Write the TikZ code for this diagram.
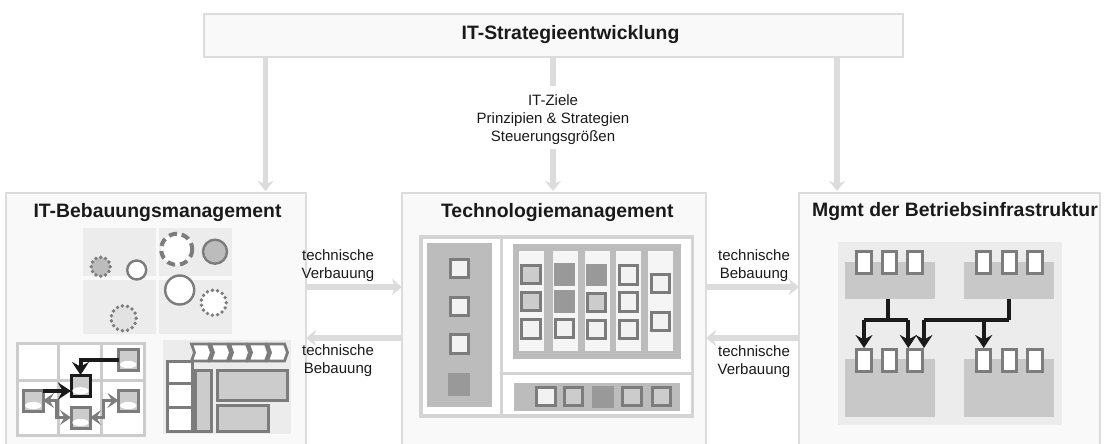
\documentclass[tikz,border=0pt]{standalone}
\usepackage{fontspec}
\setmainfont{Liberation Sans}
\usetikzlibrary{arrows.meta,calc}
\definecolor{panelline}{HTML}{DCDCDC}
\definecolor{panelfill}{HTML}{F9F9F9}
\definecolor{quad}{HTML}{ECECEC}
\definecolor{mid}{HTML}{7C7C7C}
\definecolor{midlight}{HTML}{CCCCCC}
\definecolor{dark}{HTML}{999999}
\definecolor{band}{HTML}{BCBCBC}
\definecolor{col}{HTML}{F5F5F5}
\definecolor{pale}{HTML}{F2F2F2}
\definecolor{block}{HTML}{C8C8C8}
\definecolor{ink}{HTML}{1A1A1A}
\tikzset{
  x=1pt,y=-1pt,
  panel/.style={draw=panelline,fill=panelfill,line width=2.5pt},
  title/.style={font=\bfseries\fontsize{19.4}{23}\selectfont,text=ink,inner sep=0pt},
  lab/.style={font=\fontsize{15}{18}\selectfont,text=ink,align=center,inner sep=0pt},
  flow/.style={draw=panelline,line width=5.5pt,-{Stealth[length=10pt,width=16pt,inset=3pt]}},
  plainflow/.style={draw=panelline,line width=5.5pt},
  soft/.style={fill=quad},
  item/.style={draw=mid,line width=3pt,fill=pale},
  itemlight/.style={draw=mid,line width=3pt,fill=midlight},
  itemdark/.style={fill=dark,draw=none},
  itemwhite/.style={draw=mid,line width=3pt,fill=white},
  blackitem/.style={draw=ink,line width=3pt,fill=midlight},
  grid/.style={draw=midlight,line width=3pt,fill=white},
  techgrid/.style={draw=midlight!85!white,line width=3.2pt,fill=white},
  blackarrow/.style={draw=ink,line width=4pt,-{Stealth[length=13pt,width=17pt,inset=4.5pt]}},
  blackline/.style={draw=ink,line width=4pt},
  grayarrow/.style={draw=mid,line width=3.6pt,{Stealth[length=11pt,width=15pt,inset=4.5pt]}-{Stealth[length=11pt,width=15pt,inset=4.5pt]}},
  dashring/.style={draw=mid,line width=4pt,dash pattern=on 8pt off 5pt},
  ring/.style={draw=mid,line width=2.4pt},
}
\newcommand{\mybox}[6]{%
  \pgfmathsetmacro{\bxw}{(#5)-(#3)}\pgfmathsetmacro{\bxh}{(#6)-(#4)}%
  \pgfmathsetmacro{\bxx}{((#3)+(#5))/2}\pgfmathsetmacro{\bxy}{((#4)+(#6))/2}%
  \node[#2,inner sep=0pt,outer sep=0pt,minimum width=\bxw pt,minimum height=\bxh pt] (#1) at (\bxx,\bxy) {};}
\newcommand{\sq}[4]{\mybox{#1}{#2}{#3-9.2}{#4-9.2}{#3+9.2}{#4+9.2}}
\newcommand{\dbox}[6]{\mybox{#1}{#2}{#3}{#4}{#5}{#6}%
  \fill[white] ([yshift=-5pt]#1.center) ellipse [x radius=8.2,y radius=3.6];}
\newcommand{\srv}[3]{\mybox{#1}{itemwhite}{#2-7.2}{#3-11}{#2+7.2}{#3+11}}
% ring of round dots: x, y, radius, fill, number of dots
\newcommand{\dotring}[5]{%
  \fill[#4] (#1,#2) circle [radius=#3];
  \foreach \dk in {1,...,#5}{\fill[mid] ($(#1,#2)+({360*\dk/#5}:#3)$) circle [radius=1.9];}}
\begin{document}
\begin{tikzpicture}
\useasboundingbox (0,0) rectangle (1105,444);
\clip (0,0) rectangle (1105,444);
% main panels
\mybox{top}{panel}{204}{14}{903}{57}
\mybox{bebau}{panel}{6}{193}{306}{470}
\mybox{tech}{panel}{402}{193}{706}{470}
\mybox{infra}{panel}{799}{193}{1100}{470}
\node[title] (ttop) at (570.5,34.5) {IT-Strategieentwicklung};
\node[title] (tbebau) at (157.5,213) {IT-Bebauungsmanagement};
\node[title] (ttech) at (557.3,212.5) {Technologiemanagement};
\node[title] (tinfra) at (955,212) {Mgmt der Betriebsinfrastruktur};
% vertical flows
\node[lab,minimum height=68pt] (goals) at (553,120) {IT-Ziele\\Prinzipien \& Strategien\\Steuerungsgrößen};
\draw[plainflow] (goals.north |- top.south) -- (goals.north);
\draw[flow,shorten >=2pt,shorten <=-5pt] (goals.south) -- (goals.south |- tech.north);
\coordinate (xa) at (265.5,0);
\coordinate (xb) at (837,0);
\draw[flow,shorten >=2pt] (xa |- top.south) -- (xa |- bebau.north);
\draw[flow,shorten >=2pt] (xb |- top.south) -- (xb |- infra.north);
% horizontal flows
\coordinate (ya) at (0,287);
\coordinate (yb) at (0,338);
\draw[flow] (bebau.east |- ya) -- (tech.west |- ya);
\draw[flow] (tech.west |- yb) -- (bebau.east |- yb);
\draw[flow] (tech.east |- ya) -- (infra.west |- ya);
\draw[flow] (infra.west |- yb) -- (tech.east |- yb);
\node[lab] (l1) at (338,266) {technische\\Verbauung};
\node[lab] (l2) at (338,361) {technische\\Bebauung};
\node[lab] (l3) at (754,266) {technische\\Bebauung};
\node[lab] (l4) at (754,362) {technische\\Verbauung};
% ---- portfolio quadrants
\mybox{q1}{soft}{83.3}{227.7}{155.7}{276.3}
\mybox{q2}{soft}{159.3}{227.7}{232}{276.3}
\mybox{q3}{soft}{83.3}{280}{155.7}{333.7}
\mybox{q4}{soft}{159.3}{280}{232}{333.7}
\dotring{100.7}{266.7}{9.5}{band}{12}
\draw[ring,fill=white] (136.7,270) circle [radius=9.5];
\draw[dashring,fill=white] (176.7,249.3) circle [radius=15.5];
\draw[ring,fill=band] (215,251.7) circle [radius=12];
\draw[ring,fill=white] (179.7,290) circle [radius=14.5];
\dotring{213.7}{302.7}{12.5}{white}{15}
\dotring{123.7}{318.3}{12.5}{quad!70!midlight}{15}
% ---- landscape grid
\mybox{g}{grid}{17.5}{343.5}{144}{435}
\draw[draw=midlight,line width=3pt] (58.3,343.5) -- (58.3,435) (101.7,343.5) -- (101.7,435) (17.5,380) -- (144,380);
\dbox{tr}{itemlight}{118.5}{349}{138}{370}
\dbox{cc}{blackitem}{71}{375}{90}{396.5}
\dbox{ll}{itemlight}{23.5}{390}{43}{411}
\dbox{rr}{itemlight}{118.5}{390}{138}{411}
\dbox{bb}{itemlight}{71}{407}{90}{428}
\coordinate (gl) at (56.7,0);
\coordinate (gr) at (103.3,0);
\draw[grayarrow] (ll.east) -- (ll.east -| gl) -- (bb.west -| gl) -- (bb.west);
\draw[grayarrow] (rr.west) -- (rr.west -| gr) -- (bb.east -| gr) -- (bb.east);
\draw[blackarrow] (tr.west) -| (cc.north);
\path ([yshift=-1pt]ll.north east) coordinate (la);
\draw[blackarrow] (la) -- (la -| cc.west);
% ---- process map
\mybox{pm}{soft}{163.3}{340}{291}{434.3}
\foreach \i in {4,3,2,1,0}{
  \pgfmathsetmacro{\xa}{191.5+19*\i}
  \draw[draw=mid,line width=2.8pt,fill=white,line join=miter]
    (\xa,344) -- (\xa+17,344) -- (\xa+20,352.5) -- (\xa+17,361) -- (\xa,361) -- (\xa+3,352.5) -- cycle;
}
\mybox{p1}{itemwhite}{167.5}{361.5}{192}{383.5}
\mybox{p2}{itemwhite}{167.5}{383.5}{192}{407.5}
\mybox{p3}{itemwhite}{167.5}{407.5}{192}{431}
\mybox{p4}{itemlight}{195.5}{370.5}{211.5}{431}
\mybox{p5}{itemlight}{217}{370.5}{287}{400}
\mybox{p6}{itemlight}{217}{405.5}{268.5}{431}
% ---- technology grid
\mybox{tg}{techgrid}{421}{237}{692.5}{416}
\draw[draw=midlight!85!white,line width=3.2pt] (501.7,237) -- (501.7,416) (501.7,373.3) -- (692.5,373.3);
\mybox{tl}{fill=band}{427}{243}{492}{407}
\sq{a1}{item}{459.3}{268.7}
\sq{a2}{item}{459.3}{306.7}
\sq{a3}{item}{459.3}{344}
\mybox{a4}{itemdark}{448.3}{373.3}{470.3}{395.6}
\mybox{tr2}{fill=band}{513}{244}{681}{359}
\mybox{c1}{fill=col}{519}{250.7}{544.3}{351}
\mybox{c2}{fill=col}{553}{250.7}{578.3}{351}
\mybox{c3}{fill=col}{585}{250.7}{610.3}{351}
\mybox{c4}{fill=col}{616}{250.7}{641}{351}
\mybox{c5}{fill=col}{647.7}{250.7}{673}{351}
\sq{s11}{itemlight}{531}{274.3}
\sq{s12}{itemlight}{531}{301.3}
\sq{s13}{item}{531}{329}
\mybox{s21}{itemdark}{554}{263}{575.3}{285.5}
\mybox{s22}{itemdark}{554}{290}{575.3}{312.5}
\sq{s23}{item}{564.7}{328.3}
\mybox{s31}{itemdark}{585.5}{264}{607}{286}
\sq{s32}{itemlight}{596.3}{302.3}
\sq{s33}{item}{596.3}{329.3}
\sq{s41}{item}{628.7}{275}
\sq{s42}{item}{628.7}{302}
\sq{s43}{item}{628.7}{329.3}
\sq{s51}{item}{660.7}{283.3}
\sq{s52}{item}{660.7}{321.7}
\mybox{st}{fill=band}{514}{383}{680}{411}
\sq{b1}{item}{546}{396.7}
\sq{b2}{itemlight}{573.3}{396.7}
\mybox{b3}{itemdark}{592}{385.5}{613.5}{407.8}
\sq{b4}{itemlight}{632}{396.7}
\sq{b5}{itemlight}{661.3}{396.7}
% ---- infrastructure
\mybox{ip}{soft}{838.3}{241.7}{1062.3}{425}
\mybox{k1}{fill=block}{845}{262}{935}{299}
\mybox{k2}{fill=block}{964}{262}{1054}{299}
\mybox{k3}{fill=block}{845}{359}{935}{417}
\mybox{k4}{fill=block}{964}{359}{1054}{417}
\srv{u1}{864}{262.7}\srv{u2}{889.7}{262.7}\srv{u3}{915}{262.7}
\srv{v1}{983.7}{262.7}\srv{v2}{1009.3}{262.7}\srv{v3}{1035}{262.7}
\srv{w1}{864}{360}\srv{w2}{889.7}{360}\srv{w3}{915}{360}
\srv{z1}{983.7}{360}\srv{z2}{1009.3}{360}\srv{z3}{1035}{360}
\coordinate (ba) at (0,320);
\coordinate (ka) at ([xshift=-2.3pt]k1.south);
\coordinate (kb) at ([xshift=0.3pt]k2.south);
\coordinate (wa) at ([xshift=-6.7pt]w3.north);
\coordinate (wb) at ([xshift=9pt]w3.north);
\draw[blackline] (ka) -- (ka |- ba);
\draw[blackline] (kb) -- (kb |- ba);
\draw[blackline,line cap=square] (w1.north |- ba) -- (wa |- ba);
\draw[blackline,line cap=square] (wb |- ba) -- (kb |- ba);
\draw[blackarrow,shorten >=1pt] (w1.north |- ba) -- (w1.north);
\draw[blackarrow,shorten >=1pt] (wa |- ba) -- (wa);
\draw[blackarrow,shorten >=1pt] (wb |- ba) -- (wb);
\draw[blackarrow,shorten >=1pt] (z1.north |- ba) -- (z1.north);
\end{tikzpicture}
\end{document}
